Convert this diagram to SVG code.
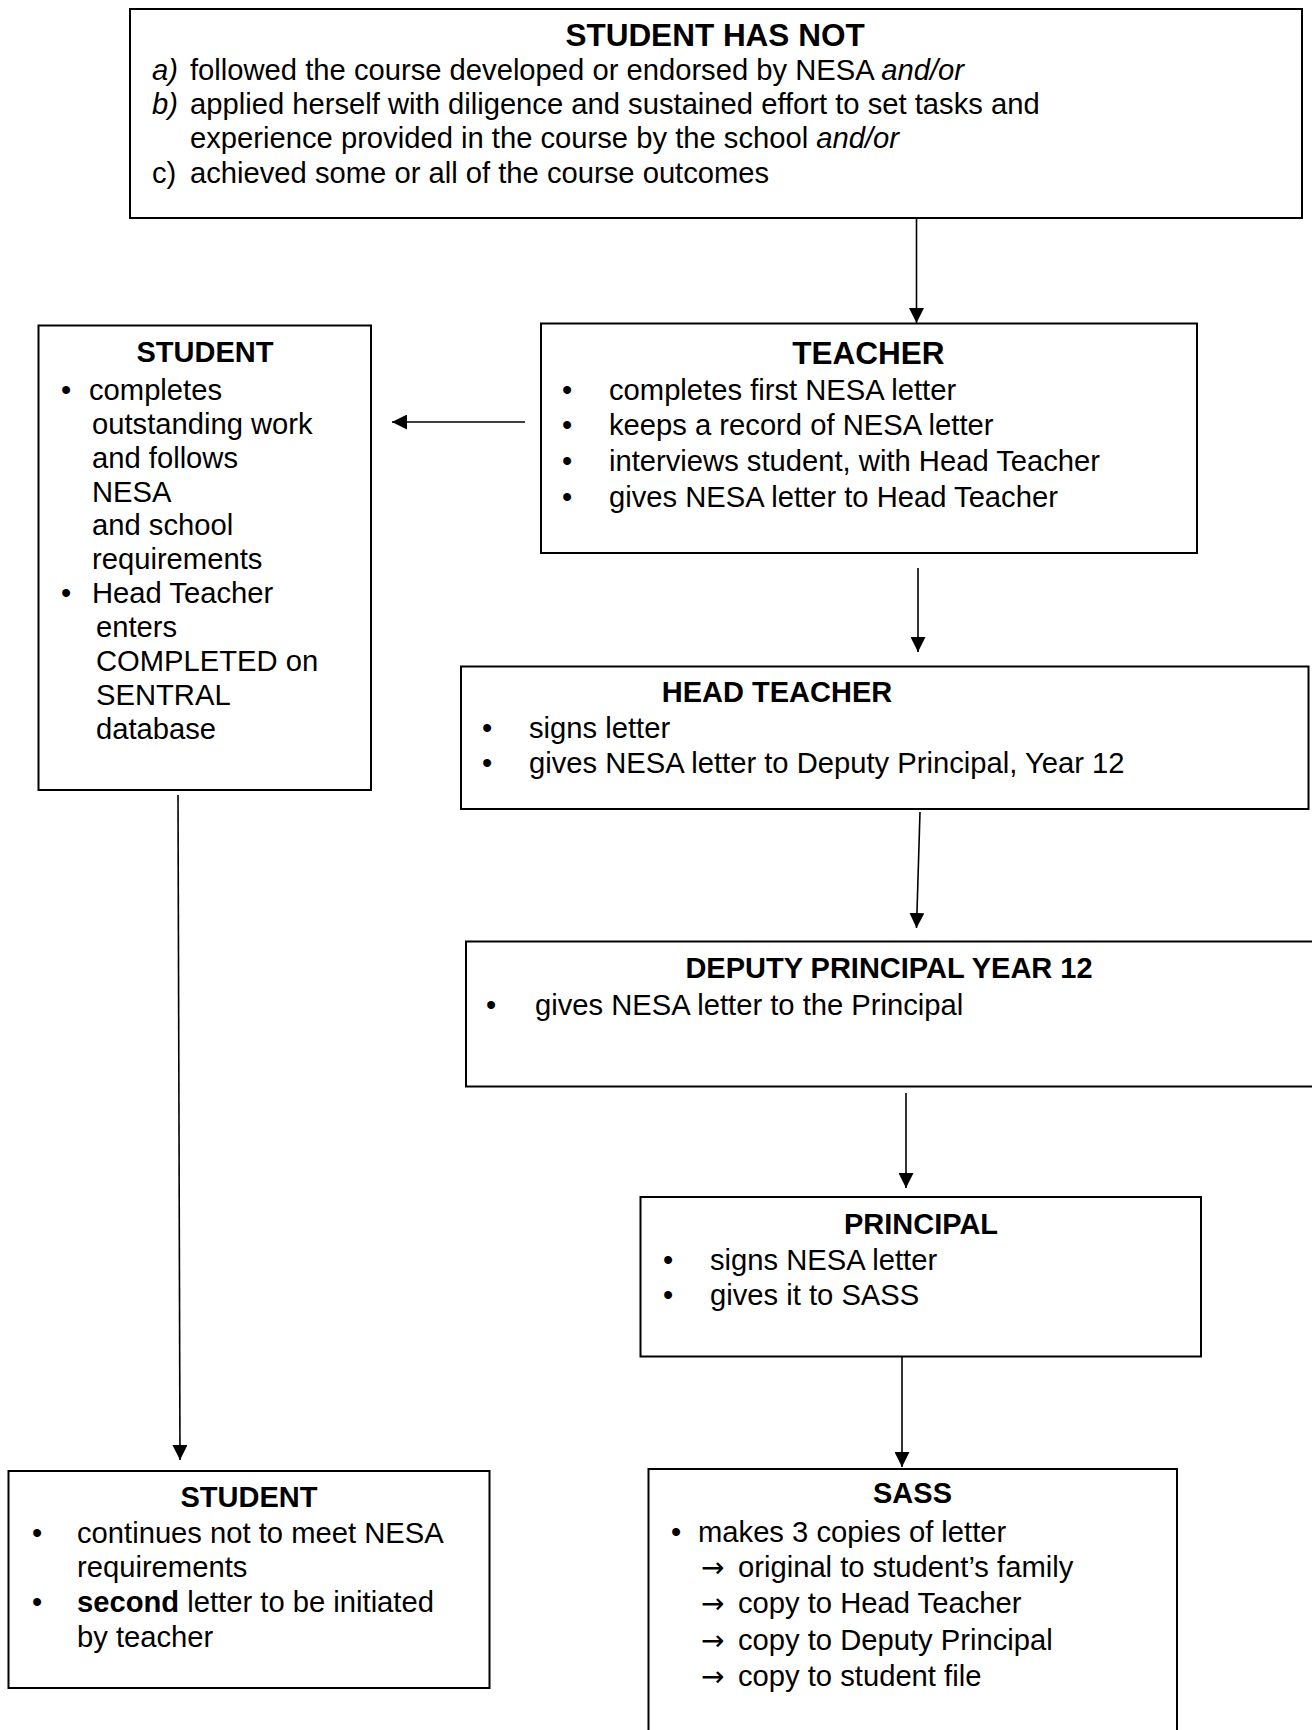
<svg xmlns="http://www.w3.org/2000/svg" width="1312" height="1730" viewBox="0 0 1312 1730">
<style>
.box{fill:#fff;stroke:#000;stroke-width:2}
.t{font-family:"Liberation Sans",Arial,sans-serif;font-size:29.2px;fill:#000}
.ar{font-family:"DejaVu Sans",sans-serif;font-size:28px;fill:#000}
.h{font-family:"Liberation Sans",Arial,sans-serif;font-size:29px;font-weight:bold;fill:#000;text-anchor:middle}
.h2{font-size:31.5px}
.b{text-anchor:middle}
.i{font-style:italic}
.con{stroke:#000;stroke-width:1.6;fill:none;marker-end:url(#ah)}
</style>
<defs>
<marker id="ah" markerUnits="userSpaceOnUse" markerWidth="15" markerHeight="15" refX="15" refY="7.5" orient="auto">
<path d="M0,0 L15,7.5 L0,15 z" fill="#000"/>
</marker>
</defs>
<rect width="1312" height="1730" fill="#fff"/>

<g id="connectors">
<line class="con" x1="916.5" y1="219" x2="916.5" y2="323"/>
<line class="con" x1="525" y1="422" x2="392" y2="422"/>
<line class="con" x1="918" y1="568" x2="918" y2="652"/>
<line class="con" x1="920" y1="812" x2="916.5" y2="928"/>
<line class="con" x1="906" y1="1093" x2="906" y2="1188"/>
<line class="con" x1="902" y1="1357" x2="902" y2="1467"/>
<line class="con" x1="178" y1="795" x2="180" y2="1460"/>
</g>

<g id="student-has-not">
<rect class="box" x="130" y="9" width="1172" height="209"/>
<text class="h h2" x="715" y="46">STUDENT HAS NOT</text>
<text class="t i" x="152" y="80">a)</text>
<text class="t" x="190" y="80">followed the course developed or endorsed by NESA <tspan class="i">and/or</tspan></text>
<text class="t i" x="152" y="114">b)</text>
<text class="t" x="190" y="114">applied herself with diligence and sustained effort to set tasks and</text>
<text class="t" x="190" y="148">experience provided in the course by the school <tspan class="i">and/or</tspan></text>
<text class="t" x="152" y="183">c)</text>
<text class="t" x="190" y="183">achieved some or all of the course outcomes</text>
</g>

<g id="student">
<rect class="box" x="38.5" y="325.5" width="332.5" height="464.5"/>
<text class="h" x="205" y="362">STUDENT</text>
<text class="t b" x="66" y="400">•</text>
<text class="t" x="89" y="400">completes</text>
<text class="t" x="92" y="434">outstanding work</text>
<text class="t" x="92" y="468">and follows</text>
<text class="t" x="92" y="502">NESA</text>
<text class="t" x="92" y="535">and school</text>
<text class="t" x="92" y="569">requirements</text>
<text class="t b" x="66" y="603">•</text>
<text class="t" x="92" y="603">Head Teacher</text>
<text class="t" x="96" y="637">enters</text>
<text class="t" x="96" y="671">COMPLETED on</text>
<text class="t" x="96" y="705">SENTRAL</text>
<text class="t" x="96" y="739">database</text>
</g>

<g id="teacher">
<rect class="box" x="541" y="323.5" width="656" height="229.5"/>
<text class="h h2" x="868.5" y="364">TEACHER</text>
<text class="t b" x="567" y="400">•</text>
<text class="t" x="609" y="400">completes first NESA letter</text>
<text class="t b" x="567" y="435">•</text>
<text class="t" x="609" y="435">keeps a record of NESA letter</text>
<text class="t b" x="567" y="471">•</text>
<text class="t" x="609" y="471">interviews student, with Head Teacher</text>
<text class="t b" x="567" y="507">•</text>
<text class="t" x="609" y="507">gives NESA letter to Head Teacher</text>
</g>

<g id="head-teacher">
<rect class="box" x="461" y="666.5" width="847.5" height="142.5"/>
<text class="h" x="777" y="702">HEAD TEACHER</text>
<text class="t b" x="487" y="738">•</text>
<text class="t" x="529" y="738">signs letter</text>
<text class="t b" x="487" y="773">•</text>
<text class="t" x="529" y="773">gives NESA letter to Deputy Principal, Year 12</text>
</g>

<g id="deputy-principal">
<rect class="box" x="466" y="941.5" width="860" height="145"/>
<text class="h" x="889" y="978">DEPUTY PRINCIPAL YEAR 12</text>
<text class="t b" x="491" y="1015">•</text>
<text class="t" x="535" y="1015">gives NESA letter to the Principal</text>
</g>

<g id="principal">
<rect class="box" x="640.5" y="1197" width="560.5" height="159.5"/>
<text class="h" x="921" y="1234">PRINCIPAL</text>
<text class="t b" x="668" y="1270">•</text>
<text class="t" x="710" y="1270">signs NESA letter</text>
<text class="t b" x="668" y="1305">•</text>
<text class="t" x="710" y="1305">gives it to SASS</text>
</g>

<g id="sass">
<rect class="box" x="648.5" y="1469" width="528.5" height="290"/>
<text class="h" x="912.5" y="1503">SASS</text>
<text class="t b" x="676" y="1542">•</text>
<text class="t" x="698" y="1542">makes 3 copies of letter</text>
<text class="ar" x="701" y="1577">→</text>
<text class="t" x="738" y="1577">original to student’s family</text>
<text class="ar" x="701" y="1613">→</text>
<text class="t" x="738" y="1613">copy to Head Teacher</text>
<text class="ar" x="701" y="1650">→</text>
<text class="t" x="738" y="1650">copy to Deputy Principal</text>
<text class="ar" x="701" y="1686">→</text>
<text class="t" x="738" y="1686">copy to student file</text>
</g>

<g id="student-2">
<rect class="box" x="8.5" y="1471" width="481" height="217"/>
<text class="h" x="249" y="1507">STUDENT</text>
<text class="t b" x="37" y="1543">•</text>
<text class="t" x="77" y="1543">continues not to meet NESA</text>
<text class="t" x="77" y="1577">requirements</text>
<text class="t b" x="37" y="1612">•</text>
<text class="t" x="77" y="1612"><tspan font-weight="bold">second</tspan> letter to be initiated</text>
<text class="t" x="77" y="1647">by teacher</text>
</g>
</svg>
